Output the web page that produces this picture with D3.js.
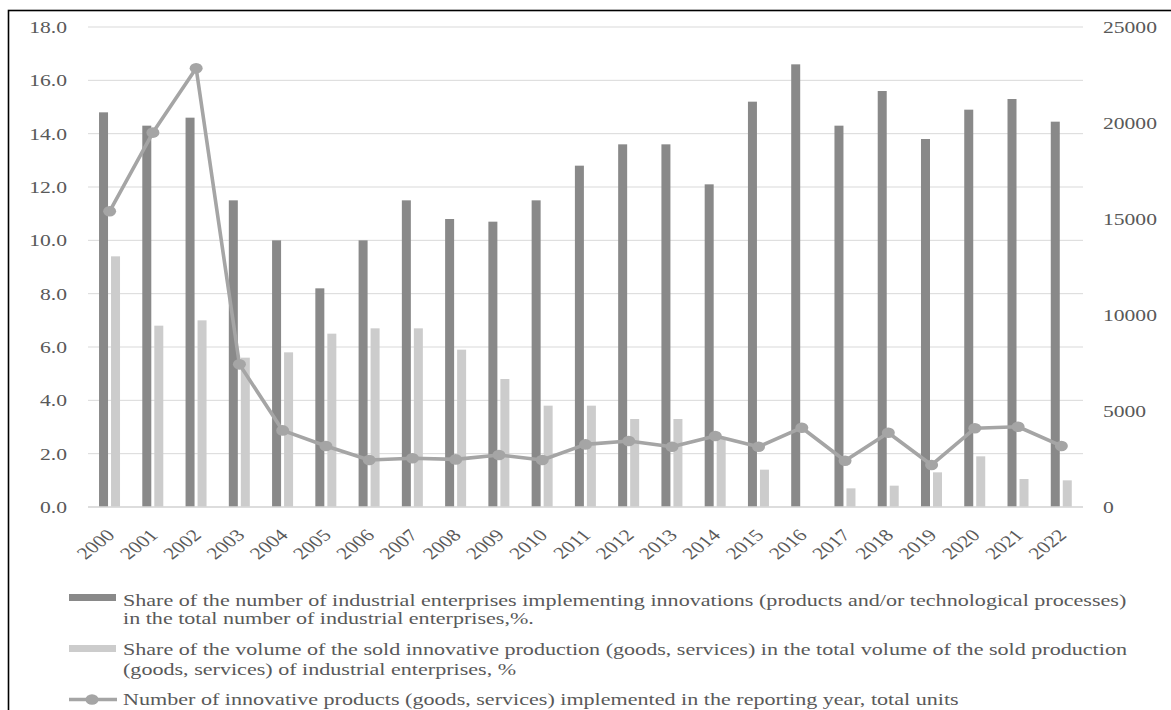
<!DOCTYPE html>
<html><head><meta charset="utf-8">
<script src="https://cdn.jsdelivr.net/npm/d3@7"></script>
<style>
html,body{margin:0;padding:0;background:#fff;}
svg{display:block;}
text{font-family:"Liberation Serif","Times New Roman",serif;fill:#595959;}
</style></head>
<body>
<svg id="chart" width="1171" height="710"></svg>
<script>
const years = ["2000","2001","2002","2003","2004","2005","2006","2007","2008","2009","2010","2011","2012","2013","2014","2015","2016","2017","2018","2019","2020","2021","2022"];
const shareEnterprises = [14.8,14.3,14.6,11.5,10.0,8.2,10.0,11.5,10.8,10.7,11.5,12.8,13.6,13.6,12.1,15.2,16.6,14.3,15.6,13.8,14.9,15.3,14.45];
const shareProduction = [9.4,6.8,7.0,5.6,5.8,6.5,6.7,6.7,5.9,4.8,3.8,3.8,3.3,3.3,2.6,1.4,0,0.7,0.8,1.3,1.9,1.05,1.0];
const innovativeProducts = [15400,19500,22850,7430,3990,3180,2450,2540,2480,2710,2450,3260,3440,3140,3700,3140,4130,2410,3870,2190,4100,4180,3180];
const leftTicks = [0,2,4,6,8,10,12,14,16,18];
const rightTicks = [0,5000,10000,15000,20000,25000];
const legendLabels = [
  ["Share of the number of industrial enterprises implementing innovations (products and/or technological processes)","in the total number of industrial enterprises,%."],
  ["Share of the volume of the sold innovative production (goods, services) in the total volume of the sold production","(goods, services) of industrial enterprises, %"],
  ["Number of innovative products (goods, services) implemented in the reporting year, total units"]
];

const SX = 1.27; // horizontal stretch of text
const FS = 17;
const FSL = 17.4;
const svg = d3.select("#chart");
const L = 88, R = 1083, T = 27, B = 507;

svg.append("rect").attr("x",8.5).attr("y",10.5).attr("width",1300).attr("height",900)
  .attr("fill","none").attr("stroke","#000").attr("stroke-width",1.6);

const x = d3.scaleBand().domain(years).range([L,R]).padding(0);
const bw = x.bandwidth();
const xs = d3.scaleBand().domain(["a","b"]).range([bw/2-10.6, bw/2+10.4]).paddingInner(0.25).paddingOuter(0);
const yL = d3.scaleLinear().domain([0,18]).range([B,T]);
const yR = d3.scaleLinear().domain([0,25000]).range([B,T]);

// gridlines
svg.append("g").selectAll("line").data(leftTicks).join("line")
  .attr("x1",L).attr("x2",R).attr("y1",d=>yL(d)).attr("y2",d=>yL(d))
  .attr("stroke","#d9d9d9").attr("stroke-width",1);

// left axis
const gl = svg.append("g").attr("transform",`translate(${L},0)`)
  .call(d3.axisLeft(yL).tickValues(leftTicks).tickFormat(d3.format(".1f")).tickSize(0));
gl.select(".domain").remove();
gl.selectAll("text").attr("x",null).attr("dy","0.33em").style("font-size",FS+"px")
  .attr("transform",`translate(-21,0) scale(${SX},1)`).attr("fill","#595959");

// right axis
const gr = svg.append("g").attr("transform",`translate(${R},0)`)
  .call(d3.axisRight(yR).tickValues(rightTicks).tickFormat(d3.format("d")).tickSize(0));
gr.select(".domain").remove();
gr.selectAll("text").attr("x",null).attr("dy","0.33em").style("font-size",FS+"px")
  .attr("text-anchor","start")
  .attr("transform",`translate(20,0) scale(${SX},1)`).attr("fill","#595959");

// bars
const gb = svg.append("g");
gb.selectAll("rect.a").data(years).join("rect").attr("class","a")
  .attr("x",d=>x(d)+xs("a")).attr("width",xs.bandwidth())
  .attr("y",(d,i)=>yL(shareEnterprises[i])).attr("height",(d,i)=>yL(0)-yL(shareEnterprises[i]))
  .attr("fill","#898989");
gb.selectAll("rect.b").data(years).join("rect").attr("class","b")
  .attr("x",d=>x(d)+xs("b")).attr("width",xs.bandwidth())
  .attr("y",(d,i)=>yL(shareProduction[i])).attr("height",(d,i)=>yL(0)-yL(shareProduction[i]))
  .attr("fill","#cccccc");

// bottom axis line
svg.append("line").attr("x1",L).attr("x2",R).attr("y1",B).attr("y2",B)
  .attr("stroke","#d9d9d9").attr("stroke-width",1.3);

// x labels
const gx = svg.append("g").attr("transform",`translate(0,${B})`)
  .call(d3.axisBottom(x).tickSize(0));
gx.select(".domain").remove();
gx.selectAll(".tick text").attr("y",null).attr("dy","0.35em").attr("text-anchor","end")
  .style("font-size",FS+"px").attr("fill","#595959")
  .attr("transform",`translate(1,25) scale(${SX},1) rotate(-45)`);

// line
const line = d3.line().x((d,i)=>x(years[i])+bw/2).y(d=>yR(d));
svg.append("path").datum(innovativeProducts).attr("d",line)
  .attr("fill","none").attr("stroke","#a5a5a5").attr("stroke-width",3.6).attr("stroke-linejoin","round");
svg.append("g").selectAll("ellipse").data(innovativeProducts).join("ellipse")
  .attr("cx",(d,i)=>x(years[i])+bw/2).attr("cy",d=>yR(d)).attr("rx",6.5).attr("ry",5.3)
  .attr("fill","#a5a5a5");

// legend
const lg = svg.append("g");
lg.append("rect").attr("x",69).attr("y",594).attr("width",47).attr("height",7).attr("fill","#898989");
lg.append("rect").attr("x",69).attr("y",645).attr("width",47).attr("height",7).attr("fill","#cccccc");
lg.append("line").attr("x1",69).attr("x2",117).attr("y1",699.5).attr("y2",699.5).attr("stroke","#a5a5a5").attr("stroke-width",3.6);
lg.append("ellipse").attr("cx",92).attr("cy",699.5).attr("rx",6.5).attr("ry",5.3).attr("fill","#a5a5a5");
const baselines = [[605.5,624],[655,674.5],[705]];
legendLabels.forEach((lines,k)=>{
  lines.forEach((t,j)=>{
    lg.append("text").attr("transform",`translate(123,${baselines[k][j]}) scale(${SX},1)`)
      .style("font-size",FSL+"px").text(t);
  });
});
</script>
</body></html>
